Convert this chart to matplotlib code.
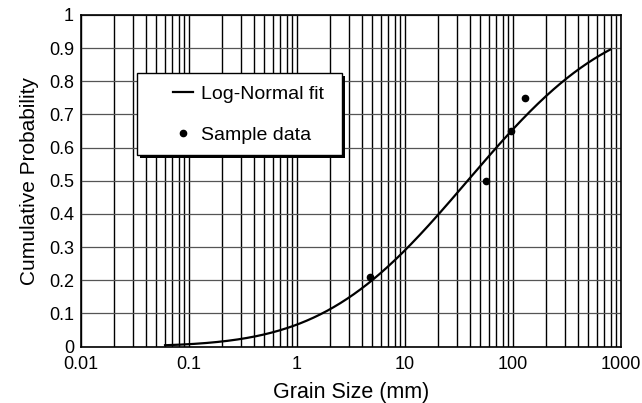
import math
import numpy as np
import matplotlib
matplotlib.use("Agg")
import matplotlib.pyplot as plt
from matplotlib.ticker import FixedLocator, NullFormatter, FixedFormatter
from matplotlib.patches import Rectangle
import matplotlib.patheffects as pe

plt.rcParams['font.family'] = ['Liberation Sans', 'DejaVu Sans']

# Sample measurements: grain size (mm) and cumulative probability
sample_size = [4.75, 56, 95, 128]
sample_prob = [0.21, 0.50, 0.65, 0.75]

# Log-normal fit parameters (median in mm, standard deviation in log10 units)
fit_median = 38.0
fit_sigma_log10 = 1.05
fit_range = [0.06, 800]

x_ticks = [0.01, 0.1, 1, 10, 100, 1000]
x_tick_labels = ["0.01", "0.1", "1", "10", "100", "1000"]
y_ticks = [0, 0.1, 0.2, 0.3, 0.4, 0.5, 0.6, 0.7, 0.8, 0.9, 1]
y_tick_labels = ["0", "0.1", "0.2", "0.3", "0.4", "0.5", "0.6", "0.7", "0.8", "0.9", "1"]


def lognormal_cdf(x):
    z = (np.log10(x) - math.log10(fit_median)) / fit_sigma_log10
    return 0.5 * (1 + np.vectorize(math.erf)(z / math.sqrt(2)))


W, H = 642, 403
fig = plt.figure(figsize=(W / 100, H / 100), dpi=100)
ax = fig.add_axes([81 / W, 1 - 346.5 / H, 540 / W, 331.5 / H])

ax.set_xscale("log")
ax.set_xlim(0.01, 1000)
ax.set_ylim(0, 1)

minor = [m * 10.0 ** e for e in range(-2, 3) for m in range(2, 10)]
ax.xaxis.set_major_locator(FixedLocator(x_ticks))
ax.xaxis.set_major_formatter(FixedFormatter(x_tick_labels))
ax.xaxis.set_minor_locator(FixedLocator(minor))
ax.xaxis.set_minor_formatter(NullFormatter())
ax.yaxis.set_major_locator(FixedLocator(y_ticks))
ax.yaxis.set_major_formatter(FixedFormatter(y_tick_labels))

ax.grid(True, which="major", axis="x", color="black", linewidth=1.0)
ax.grid(True, which="minor", axis="x", color="black", linewidth=1.0)
ax.grid(True, which="major", axis="y", color="#555555", linewidth=0.9)
ax.set_axisbelow(True)

ax.tick_params(which="both", length=0, labelsize=13)
ax.tick_params(axis="x", pad=7)
ax.tick_params(axis="y", pad=5)
for s in ax.spines.values():
    s.set_linewidth(1.2)

xs = np.logspace(math.log10(fit_range[0]), math.log10(fit_range[1]), 400)
ax.plot(xs, lognormal_cdf(xs), color="black", linewidth=1.6, label="Log-Normal fit")
ax.plot(sample_size, sample_prob, linestyle="none", marker="o", markersize=4.5,
        color="black", label="Sample data")

ax.set_xlabel("Grain Size (mm)", fontsize=15.5, labelpad=6)
ax.set_ylabel("Cumulative Probability", fontsize=15, labelpad=7)

# Legend box with a drop shadow
box = Rectangle((137 / W, 1 - 155 / H), (342 - 137) / W, (155 - 73) / H,
                transform=fig.transFigure, facecolor="white", edgecolor="black",
                linewidth=1.0, zorder=5, clip_on=False)
box.set_path_effects([pe.SimplePatchShadow(offset=(2.5, -2.5), shadow_rgbFace="black", alpha=1),
                      pe.Normal()])
ax.add_patch(box)

leg = ax.legend(loc="upper left", bbox_to_anchor=(173 / W, 1 - 85 / H),
                bbox_transform=fig.transFigure,
                fontsize=14, frameon=False,
                handlelength=1.05, handletextpad=0.4, labelspacing=1.2,
                borderpad=0, borderaxespad=0)
leg.set_zorder(10)

fig.savefig("out.png", dpi=100)
